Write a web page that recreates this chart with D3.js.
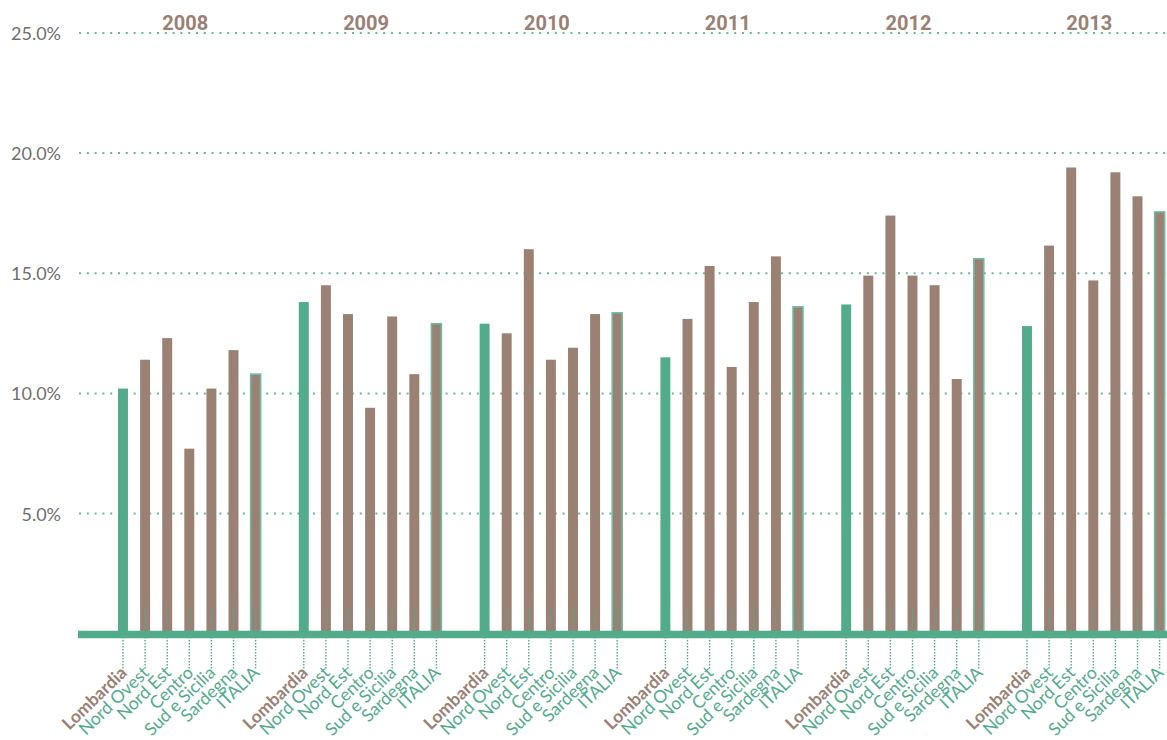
<!DOCTYPE html>
<html>
<head>
<meta charset="utf-8">
<script src="https://cdn.jsdelivr.net/npm/d3@7"></script>
<style>
    body { margin: 0; background: #fff; }
    svg { display: block; }
</style>
</head>
<body>
<svg id="chart" width="1167" height="740"></svg>
<script>
// dati
const years = ["2008", "2009", "2010", "2011", "2012", "2013"];
const regions = ["Lombardia", "Nord Ovest", "Nord Est", "Centro", "Sud e Sicilia", "Sardegna", "ITALIA"];
const yTicks = [5, 10, 15, 20, 25];

// valori % per anno, nell'ordine di regions
const values2008 = [10.2, 11.4, 12.3, 7.7, 10.2, 11.8, 10.8];
const values2009 = [13.8, 14.5, 13.3, 9.4, 13.2, 10.8, 12.9];
const values2010 = [12.9, 12.5, 16.0, 11.4, 11.9, 13.3, 13.35];
const values2011 = [11.5, 13.1, 15.3, 11.1, 13.8, 15.7, 13.6];
const values2012 = [13.7, 14.9, 17.4, 14.9, 14.5, 10.6, 15.6];
const values2013 = [12.8, 16.15, 19.4, 14.7, 19.2, 18.2, 17.55];
const allValues = [values2008, values2009, values2010, values2011, values2012, values2013];

const green = "#52ab8a";
const brown = "#9b8074";
const grey = "#6f6f6f";

const rows = [];
years.forEach((yr, i) => {
    regions.forEach((r, j) => {
        rows.push({ year: yr, region: r, value: allValues[i][j] });
    });
});

const svg = d3.select("#chart");

const y = d3.scaleLinear().domain([0, 25]).range([633.7, 32.9]);

const x0 = d3.scaleBand().domain(years).range([98.9, 98.9 + 6 * 180.8]);
const x1 = d3
    .scaleBand()
    .domain(regions)
    .range([0, x0.bandwidth()])
    .paddingInner(0.55)
    .paddingOuter(0.865);

const cx = (d) => x0(d.year) + x1(d.region) + x1.bandwidth() / 2;

// griglia
const yAxis = d3
    .axisLeft(y)
    .tickValues(yTicks)
    .tickSize(0)
    .tickPadding(0)
    .tickFormat((d) => d3.format(".1f")(d) + "%");

const axisG = svg.append("g").attr("transform", "translate(61,0)").call(yAxis);
axisG.select(".domain").remove();
axisG
    .selectAll("text")
    .attr("fill", grey)
    .attr("font-family", "Lato, 'Liberation Sans', sans-serif")
    .attr("font-size", 18)
    .attr("dy", "0.36em");

svg.append("g")
    .selectAll("line")
    .data(yTicks)
    .enter()
    .append("line")
    .attr("x1", 79)
    .attr("x2", 1167)
    .attr("y1", (d) => y(d))
    .attr("y2", (d) => y(d))
    .attr("stroke", green)
    .attr("stroke-width", 2)
    .attr("stroke-dasharray", "2,5.8")
    .attr("opacity", 0.85);

// barre
svg.append("g")
    .selectAll("rect")
    .data(rows)
    .enter()
    .append("rect")
    .attr("x", (d) => x0(d.year) + x1(d.region))
    .attr("y", (d) => y(d.value))
    .attr("width", x1.bandwidth())
    .attr("height", (d) => y(0) - y(d.value))
    .attr("fill", (d) => (d.region === "Lombardia" ? green : brown))
    .attr("stroke", (d) => (d.region === "ITALIA" ? "#6cbd9f" : "none"))
    .attr("stroke-width", 1.6);

// linee tratteggiate sotto le barre
svg.append("g")
    .selectAll("line")
    .data(rows)
    .enter()
    .append("line")
    .attr("x1", cx)
    .attr("x2", cx)
    .attr("y1", 607)
    .attr("y2", 670)
    .attr("stroke", green)
    .attr("stroke-width", 1.4)
    .attr("stroke-dasharray", "1.5,1.5");

// asse orizzontale spesso
svg.append("line")
    .attr("x1", 78)
    .attr("x2", 1167)
    .attr("y1", y(0) + 0.8)
    .attr("y2", y(0) + 0.8)
    .attr("stroke", green)
    .attr("stroke-width", 7.5);

// anni
svg.append("g")
    .selectAll("text")
    .data(years)
    .enter()
    .append("text")
    .attr("x", (d) => x0(d) + x0.bandwidth() / 2 - 4)
    .attr("y", 30)
    .attr("text-anchor", "middle")
    .attr("fill", brown)
    .attr("font-family", "Roboto, 'Liberation Sans', sans-serif")
    .attr("font-weight", "bold")
    .attr("font-size", 20)
    .text((d) => d);

// etichette regioni
svg.append("g")
    .selectAll("text")
    .data(rows)
    .enter()
    .append("text")
    .attr("transform", (d) => `translate(${cx(d) + 5},${674}) rotate(-44)`)
    .attr("text-anchor", "end")
    .attr("fill", (d) => (d.region === "Lombardia" ? brown : green))
    .attr("font-weight", (d) => (d.region === "Lombardia" ? "bold" : "normal"))
    .attr("font-family", "Lato, 'Liberation Sans', sans-serif")
    .attr("font-size", 17.5)
    .text((d) => d.region);
</script>
</body>
</html>
